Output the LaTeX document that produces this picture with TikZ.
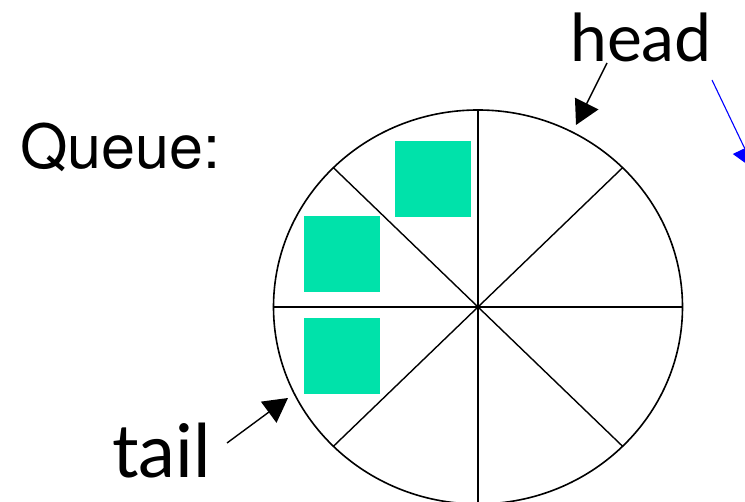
\documentclass[tikz,border=0pt]{standalone}
\usepackage{fontspec}
\newfontfamily\qfont{TeX Gyre Heros}
\newfontfamily\hfont{Lato}
\usepackage{tikz}
\usetikzlibrary{arrows.meta,positioning,calc,shapes.geometric}
\usepackage{xcolor}
\definecolor{slotgreen}{RGB}{0,226,170}
\definecolor{ptrblue}{RGB}{0,0,255}

\begin{document}
\begin{tikzpicture}[x=1pt,y=1pt,
    ring/.style={draw,ellipse,line width=1.6pt,minimum width=409pt,minimum height=394pt,inner sep=0pt},
    slot/.style={fill=slotgreen,minimum size=76pt,inner sep=0pt},
    lbl/.style={anchor=base west,inner sep=0pt,font=\hfont\fontsize{66}{66}\selectfont},
    ptr/.style={-{Triangle[length=24pt,width=26pt]},line width=1.4pt},
    spoke/.style={line width=1.4pt}
]
\useasboundingbox (0,0) rectangle (745,502);
\clip (0,0) rectangle (745,502);
\node[ring] (q) at (478,195) {};
\draw[spoke] (q.north) -- (q.south);
\draw[spoke] (q.west) -- (q.east);
\draw[spoke] ($(q.center)+(45:204.5 and 197)$) -- ($(q.center)+(225:204.5 and 197)$);
\draw[spoke] ($(q.center)+(135:204.5 and 197)$) -- ($(q.center)+(315:204.5 and 197)$);
\node[slot] (s1) at (433,323) {};
\node[slot] (s2) at (342,248) {};
\node[slot] (s3) at (342,146) {};
\node[anchor=base west,inner sep=0pt,font=\qfont\fontsize{61}{61}\selectfont] (title) at (20,333) {Queue:};
\node[lbl] (head) at (570,440) {head};
\node[lbl,font=\hfont\fontsize{74}{74}\selectfont] (tail) at (112,24) {tail};
\coordinate (headfrom) at (607,439);
\coordinate (headtip) at (576,377);
\coordinate (tailfrom) at (227,59);
\coordinate (tailtip) at (288,104);
\coordinate (nextfrom) at (712,422);
\coordinate (nexttip) at (755,332);
\draw[ptr] (headfrom) -- (headtip);
\draw[ptr] (tailfrom) -- (tailtip);
\draw[ptr,ptrblue,line width=1.1pt] (nextfrom) -- (nexttip);
\end{tikzpicture}
\end{document}
